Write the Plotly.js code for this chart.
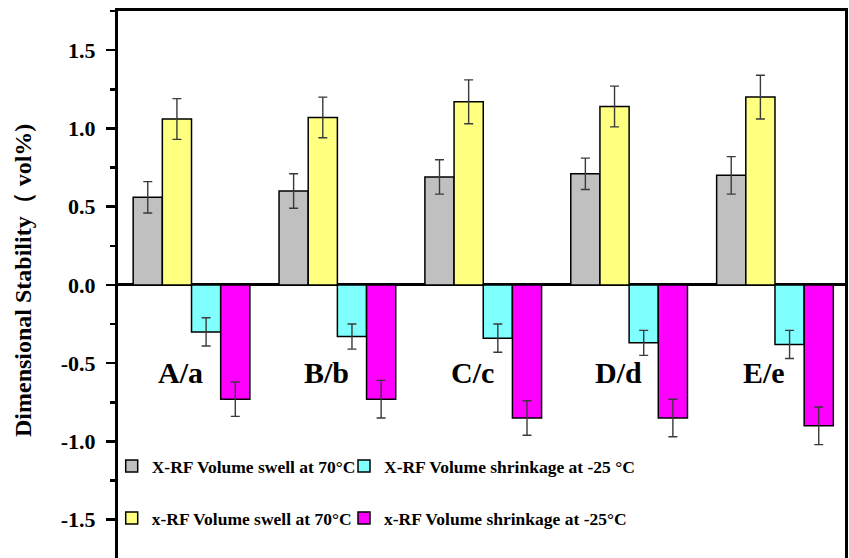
<!DOCTYPE html>
<html>
<head>
<meta charset="utf-8">
<script src="https://cdn.plot.ly/plotly-3.0.1.min.js"></script>
<style>
  html, body { margin: 0; padding: 0; background: #fff; overflow: hidden; }
  #chart { width: 849px; height: 600px; }
</style>
</head>
<body>
<div id="chart"></div>
<script>
// ---- data ----
const categories = ['A/a', 'B/b', 'C/c', 'D/d', 'E/e'];

const seriesNames = [
  'X-RF Volume swell at 70\u00B0C',
  'x-RF Volume swell at 70\u00B0C',
  'X-RF Volume shrinkage at -25 \u00B0C',
  'x-RF Volume shrinkage at -25\u00B0C'
];

const xrfSwell      = [0.56, 0.60, 0.69, 0.71, 0.70];
const xrfSwellErr   = [0.10, 0.11, 0.11, 0.10, 0.12];
const lrfSwell      = [1.06, 1.07, 1.17, 1.14, 1.20];
const lrfSwellErr   = [0.13, 0.13, 0.14, 0.13, 0.14];
const xrfShrink     = [-0.30, -0.33, -0.34, -0.37, -0.38];
const xrfShrinkErr  = [0.09, 0.08, 0.09, 0.08, 0.09];
const lrfShrink     = [-0.73, -0.73, -0.85, -0.85, -0.90];
const lrfShrinkErr  = [0.11, 0.12, 0.11, 0.12, 0.12];

const yTickVals = [-1.5, -1.0, -0.5, 0.0, 0.5, 1.0, 1.5];
const yTickText = ['-1.5', '-1.0', '-0.5', '0.0', '0.5', '1.0', '1.5'];

// ---- styling ----
const FONT = 'Liberation Serif, Times New Roman, serif';
const colors = ['#C0C0C0', '#FFFF80', '#80FFFF', '#FF00FF'];
const values = [xrfSwell, lrfSwell, xrfShrink, lrfShrink];
const errors = [xrfSwellErr, lrfSwellErr, xrfShrinkErr, lrfShrinkErr];
const legendIds = ['legend', 'legend3', 'legend2', 'legend4'];

const traces = values.map((v, k) => ({
  type: 'bar',
  name: seriesNames[k],
  x: categories,
  y: v,
  marker: { color: colors[k], line: { color: '#000', width: 1.5 } },
  error_y: { type: 'data', array: errors[k], visible: true, color: '#3a3a3a', thickness: 1.4, width: 4.5 },
  legend: legendIds[k],
  hoverinfo: 'y'
}));

// plot area: top 11px, bottom 598px (below the visible window), left 118, right 845
const pxToPaperX = px => (px - 118) / 727;
const pxToPaperY = py => (598 - py) / 587;

const legendBase = {
  orientation: 'h',
  xanchor: 'left',
  yanchor: 'middle',
  bgcolor: 'rgba(0,0,0,0)',
  borderwidth: 0,
  font: { family: FONT, size: 17.5, color: '#000', weight: 'bold' }
};

const annotations = categories.map((c, i) => ({
  x: i - 0.075,
  y: -0.56,
  xref: 'x',
  yref: 'y',
  xanchor: 'center',
  yanchor: 'middle',
  text: c,
  showarrow: false,
  font: { family: FONT, size: 30, color: '#000', weight: 'bold' }
}));

annotations.push({
  x: pxToPaperX(23),
  y: pxToPaperY(281),
  xref: 'paper',
  yref: 'paper',
  xanchor: 'center',
  yanchor: 'middle',
  text: 'Dimensional Stability\uFF08 vol%)',
  textangle: -90,
  showarrow: false,
  font: { family: FONT, size: 24, color: '#000', weight: 'bold' }
});

const layout = {
  width: 849,
  height: 600,
  margin: { l: 118, r: 4, t: 11, b: 2, pad: 0 },
  paper_bgcolor: '#fff',
  plot_bgcolor: '#fff',
  barmode: 'group',
  bargap: 0.2,
  bargroupgap: 0,
  showlegend: true,
  xaxis: {
    type: 'category',
    range: [-0.504, 4.48],
    showticklabels: false,
    ticks: '',
    showgrid: false,
    zeroline: false,
    showline: true,
    linecolor: '#000',
    linewidth: 3,
    mirror: true,
    fixedrange: true
  },
  yaxis: {
    range: [-2.0, 1.75],
    tickmode: 'array',
    tickvals: yTickVals,
    ticktext: yTickText,
    ticks: 'outside',
    ticklen: 9,
    tickwidth: 2.5,
    tickcolor: '#000',
    ticklabelstandoff: 6,
    minor: { tickmode: 'linear', tick0: 0, dtick: 0.25, ticks: 'outside', ticklen: 5, tickwidth: 2.5, tickcolor: '#000', showgrid: false },
    tickfont: { family: FONT, size: 22, color: '#000', weight: 'bold' },
    showgrid: false,
    zeroline: true,
    zerolinecolor: '#000',
    zerolinewidth: 3,
    showline: true,
    linecolor: '#000',
    linewidth: 3,
    mirror: true,
    fixedrange: true
  },
  legend:  Object.assign({}, legendBase, { x: pxToPaperX(111.7), y: pxToPaperY(466) }),
  legend2: Object.assign({}, legendBase, { x: pxToPaperX(344),   y: pxToPaperY(466) }),
  legend3: Object.assign({}, legendBase, { x: pxToPaperX(111.7), y: pxToPaperY(518) }),
  legend4: Object.assign({}, legendBase, { x: pxToPaperX(344),   y: pxToPaperY(518) }),
  annotations: annotations
};

Plotly.newPlot('chart', traces, layout, { displayModeBar: false, staticPlot: true });
</script>
</body>
</html>
